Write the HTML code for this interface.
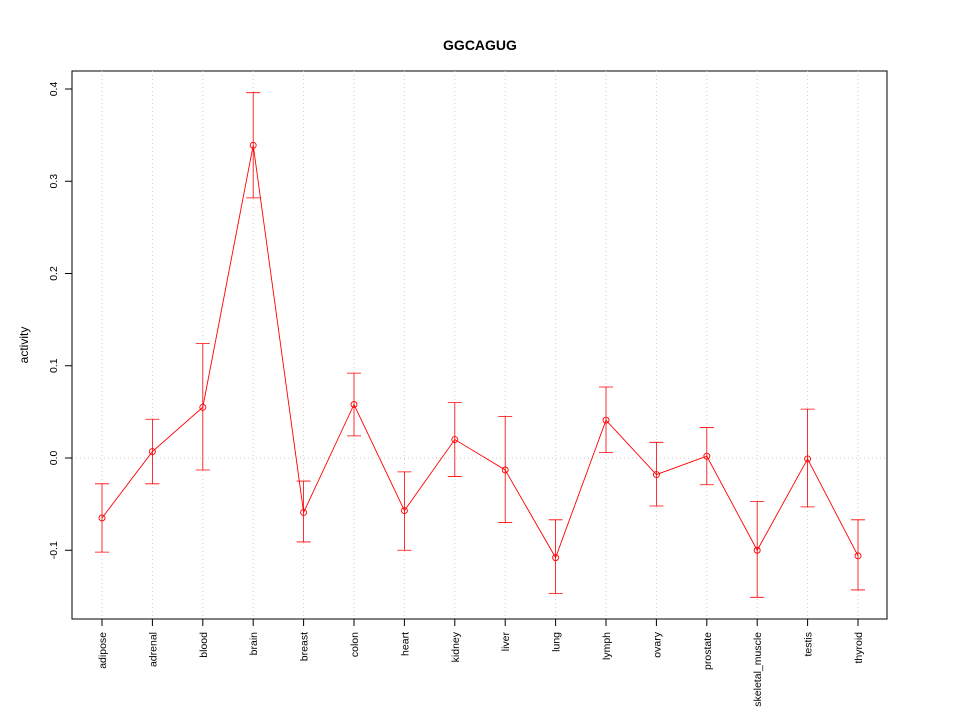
<!DOCTYPE html>
<html><head><meta charset="utf-8"><style>
body{margin:0;background:#fff}
svg{display:block;font-family:"Liberation Sans",sans-serif}
</style></head><body>
<svg id="c" width="960" height="720" xmlns="http://www.w3.org/2000/svg">
<text x="480" y="50" text-anchor="middle" font-size="14" font-weight="bold">GGCAGUG</text>
<text transform="translate(28,345) rotate(-90)" text-anchor="middle" font-size="12">activity</text>
<rect x="72" y="71" width="815" height="548" fill="none" stroke="#000"/>
<g id="g"></g>
</svg>
<script>
const categories=["adipose","adrenal","blood","brain","breast","colon","heart","kidney","liver","lung","lymph","ovary","prostate","skeletal_muscle","testis","thyroid"];
const values=[-0.065,0.007,0.055,0.339,-0.059,0.058,-0.057,0.020,-0.013,-0.108,0.041,-0.018,0.002,-0.100,-0.001,-0.106];
const upper=[-0.028,0.042,0.124,0.396,-0.025,0.092,-0.015,0.060,0.045,-0.067,0.077,0.017,0.033,-0.047,0.053,-0.067];
const lower=[-0.102,-0.028,-0.013,0.282,-0.091,0.024,-0.100,-0.020,-0.070,-0.147,0.006,-0.052,-0.029,-0.151,-0.053,-0.143];
const yTicks=[-0.1,0.0,0.1,0.2,0.3,0.4];
const yTickLabels=["-0.1","0.0","0.1","0.2","0.3","0.4"];
const NS="http://www.w3.org/2000/svg";
const g=document.getElementById('g');
const x=i=>102+i*(858-102)/(categories.length-1);
const y=v=>458-v*922.5;
function mk(t,a){const e=document.createElementNS(NS,t);for(const k in a)e.setAttribute(k,a[k]);g.appendChild(e);return e;}
categories.forEach((c,i)=>{
 const gl=mk('line',{x1:x(i),x2:x(i),y1:71,y2:619,stroke:'#ccc','stroke-dasharray':'1,3'});
 
 
 const tk=mk('line',{x1:x(i),x2:x(i),y1:619,y2:626,stroke:'#000'});
 
 
 const t=mk('text',{transform:`translate(${x(i)+4},632) rotate(-90)`,'text-anchor':'end','font-size':'10.5'});
 t.textContent=c;
 
 
});
const zl=mk('line',{x1:72,x2:887,y1:y(0),y2:y(0),stroke:'#ccc','stroke-dasharray':'1,3'});


yTicks.forEach((v,i)=>{
 const tk=mk('line',{x1:65,x2:72,y1:y(v),y2:y(v),stroke:'#000'});
 
 
 const t=mk('text',{transform:`translate(57,${y(v)}) rotate(-90)`,'text-anchor':'middle','font-size':'10.5'});
 t.textContent=yTickLabels[i];
 
 
});
const ax=mk('line',{x1:72,x2:72,y1:y(yTicks[0]),y2:y(yTicks[yTicks.length-1]),stroke:'#000'});


categories.forEach((c,i)=>{
 const eb=mk('path',{d:`M${x(i)},${y(lower[i])}V${y(upper[i])}M${x(i)-7},${y(upper[i])}H${x(i)+7}M${x(i)-7},${y(lower[i])}H${x(i)+7}`,stroke:'#f00','stroke-width':'0.8',fill:'none'});
 
 
});
const ln=mk('polyline',{points:values.map((v,i)=>x(i)+','+y(v)).join(' '),stroke:'#f00','stroke-width':'0.9',fill:'none'});


values.forEach((v,i)=>{
 const p=mk('circle',{cx:x(i),cy:y(v),r:3,stroke:'#f00','stroke-width':'0.9',fill:'none'});
 
 
});
</script>
</body></html>
